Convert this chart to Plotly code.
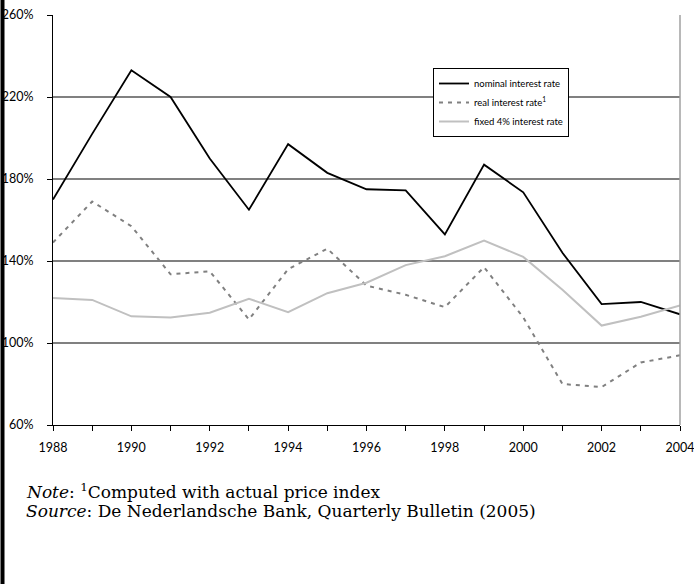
import plotly.graph_objects as go

years = list(range(1988, 2005))
nominal = [170, 202, 233, 220, 190, 165, 197, 183, 175, 174.5, 153, 187, 173.5, 144, 119, 120, 114]
real = [149, 169, 157, 133.5, 135, 111.5, 136, 146, 128, 123.5, 117.5, 137, 112.5, 80, 78.5, 90.5, 94]
fixed4 = [122, 121, 113, 112.5, 114.8, 121.6, 115, 124.3, 129.4, 138, 142.3, 150, 142, 126, 108.5, 112.8, 118.3]

series_names = ["nominal interest rate", "real interest rate<sup>1</sup>", "fixed 4% interest rate"]
y_ticks = [60, 100, 140, 180, 220, 260]
y_labels = [f"{v}%" for v in y_ticks]
x_labels = [str(y) if y % 2 == 0 else "" for y in years]
baseline = 100

W, H = 694, 584
PL, PR, PT, PB = 53, 680, 15, 425  # plot box in pixels
pw, ph = PR - PL, PB - PT


def px_x(x):
    return (x - PL) / pw


def px_y(y):
    return (PB - y) / ph


fig = go.Figure()
fig.add_trace(go.Scatter(x=years, y=nominal, mode="lines", name=series_names[0],
                         line=dict(color="#000000", width=1.8)))
fig.add_trace(go.Scatter(x=years, y=real, mode="lines", name=series_names[1],
                         line=dict(color="#808080", width=2, dash="4px,5px")))
fig.add_trace(go.Scatter(x=years, y=fixed4, mode="lines", name=series_names[2],
                         line=dict(color="#c0c0c0", width=2)))

tick_font = dict(family="Lato, 'Open Sans', sans-serif", size=12.5, color="#000")

fig.update_layout(
    width=W, height=H,
    margin=dict(l=PL, r=W - PR, t=PT, b=H - PB),
    paper_bgcolor="white", plot_bgcolor="white",
    showlegend=True,
    legend=dict(x=px_x(433), y=px_y(68), xanchor="left", yanchor="top",
                bgcolor="white", bordercolor="black", borderwidth=1,
                font=dict(family="Lato, 'Open Sans', sans-serif", size=9.5, color="#000"),
                tracegroupgap=0),
    xaxis=dict(range=[1988, 2004.0001], tickvals=years, ticktext=x_labels,
               showgrid=False, zeroline=False, showline=True, linecolor="black", linewidth=1,
               ticks="outside", ticklen=5, tickcolor="black", tickfont=tick_font,
               ticklabelstandoff=6, ticklabeloverflow="allow", automargin=False,
               fixedrange=True),
    yaxis=dict(range=[60, 260.0001], tickvals=y_ticks, ticktext=y_labels,
               showgrid=True, gridcolor="#808080", gridwidth=1.5,
               zeroline=False, showline=True, linecolor="black", linewidth=1,
               ticks="outside", ticklen=5, tickcolor="black", tickfont=tick_font,
               ticklabelstandoff=11, ticklabeloverflow="allow", automargin=False,
               fixedrange=True),
)

# 100% reference line in black
fig.add_shape(type="line", xref="paper", yref="y", x0=0, x1=1, y0=baseline, y1=baseline,
              line=dict(color="black", width=1.2), layer="between")
# right border of plot area
fig.add_shape(type="line", xref="paper", yref="paper", x0=1, x1=1, y0=0, y1=1,
              line=dict(color="#a0a0a0", width=1.5))
# page left rule
fig.add_shape(type="line", xref="paper", yref="paper",
              x0=px_x(2.5), x1=px_x(2.5), y0=px_y(600), y1=px_y(-10),
              line=dict(color="black", width=4))

note_font = dict(family="'DejaVu Serif', 'Liberation Serif', serif", size=17, color="#000")
fig.add_annotation(xref="paper", yref="paper", x=px_x(24), y=px_y(491),
                   xanchor="left", yanchor="middle", showarrow=False, align="left",
                   text="<i>Note</i>: <sup>1</sup>Computed with actual price index", font=note_font)
fig.add_annotation(xref="paper", yref="paper", x=px_x(24), y=px_y(511),
                   xanchor="left", yanchor="middle", showarrow=False, align="left",
                   text="<i>Source</i>: De Nederlandsche Bank, Quarterly Bulletin (2005)", font=note_font)

fig.write_html("out.html", config={"displayModeBar": False},
               post_script="document.body.style.margin='0';")
